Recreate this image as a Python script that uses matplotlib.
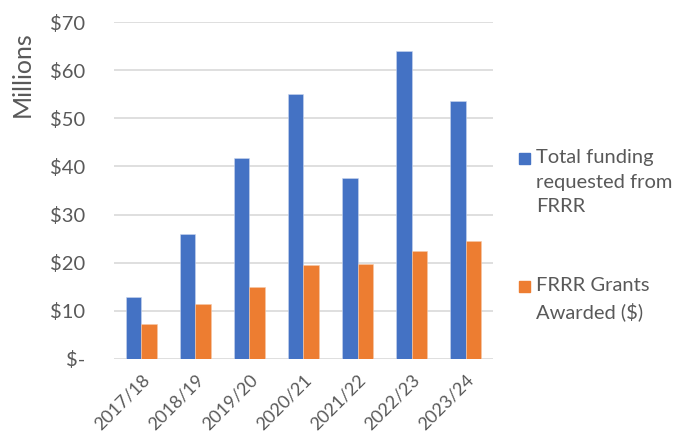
import matplotlib.pyplot as plt
from matplotlib.patches import Rectangle
import numpy as np

years = ["2017/18", "2018/19", "2019/20", "2020/21", "2021/22", "2022/23", "2023/24"]
requested = [12.9, 26.0, 41.8, 55.0, 37.5, 64.1, 53.6]
awarded = [7.2, 11.4, 14.9, 19.6, 19.8, 22.4, 24.4]
yticks = [0, 10, 20, 30, 40, 50, 60, 70]
ytick_labels = ["$-", "$10", "$20", "$30", "$40", "$50", "$60", "$70"]

blue = "#4472C4"
orange = "#ED7D31"
grey = "#595959"

plt.rcParams["font.family"] = ["Lato", "DejaVu Sans"]

fig = plt.figure(figsize=(6.87, 4.36), dpi=100)
ax = fig.add_axes([114 / 687, 1 - 358.7 / 436, (493 - 114) / 687, (358.7 - 22.3) / 436])

x = np.arange(len(years))
w = 0.2857
ax.bar(x - w / 2, requested, w, color=blue, edgecolor="#c9d6ee", linewidth=0.4, zorder=3)
ax.bar(x + w / 2, awarded, w, color=orange, edgecolor="#f6c8a8", linewidth=0.4, zorder=3)

ax.set_xlim(-0.5, len(years) - 0.5)
ax.set_ylim(0, 70)
ax.set_yticks(yticks)
ax.set_yticklabels(ytick_labels)
ax.set_xticks(x)
ax.set_xticklabels(years, rotation=45, ha="right", rotation_mode="anchor")
ax.grid(axis="y", color="#d9d9d9", linewidth=1.2, zorder=0)
ax.tick_params(axis="y", length=0, pad=21, labelsize=14.5, labelcolor=grey)
ax.tick_params(axis="x", length=0, pad=9, labelsize=13, labelcolor=grey)
for s in ax.spines.values():
    s.set_visible(False)

fig.text(22 / 687, 1 - 74 / 436, "Millions", rotation=90, ha="center", va="center",
         fontsize=18, color=grey)

# legend
fig.patches.append(Rectangle((519 / 687, 1 - 164 / 436), 11 / 687, 11 / 436,
                             transform=fig.transFigure, color=blue))
fig.text(536 / 687, 1 - 149 / 436, "Total funding\nrequested from\nFRRR", ha="left", va="top",
         fontsize=14.5, color=grey, linespacing=1.55)
fig.patches.append(Rectangle((519 / 687, 1 - 292 / 436), 11 / 687, 11 / 436,
                             transform=fig.transFigure, color=orange))
fig.text(536 / 687, 1 - 277 / 436, "FRRR Grants\nAwarded ($)", ha="left", va="top",
         fontsize=14.5, color=grey, linespacing=1.55)

fig.savefig("out.png", dpi=100)
